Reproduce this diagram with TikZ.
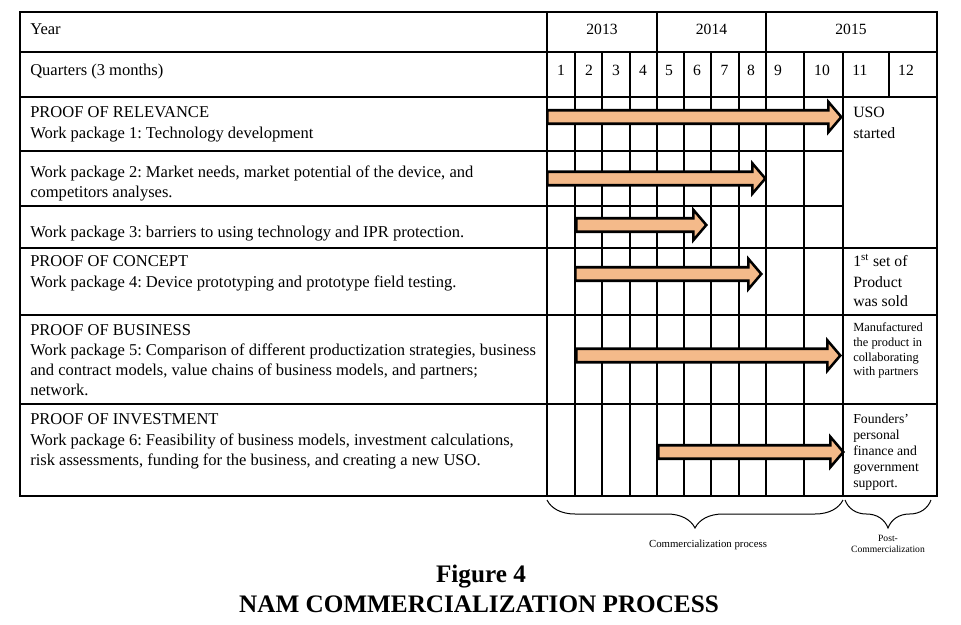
\documentclass[tikz,border=0pt]{standalone}
\usepackage{fontspec}
\setmainfont{Liberation Serif}
\usetikzlibrary{decorations.pathreplacing}
\definecolor{barfill}{HTML}{F4BA8A}
\tikzset{
  gridline/.style={line width=1.0pt, draw=black},
  cell/.style={anchor=base west, inner sep=0pt, font=\fontsize{12.4}{14}\selectfont},
  hdr/.style={anchor=base, inner sep=0pt, font=\fontsize{11.7}{14}\selectfont},
  smallnote/.style={anchor=base west, inner sep=0pt, font=\fontsize{9.3}{11}\selectfont},
  midnote/.style={anchor=base west, inner sep=0pt, font=\fontsize{10.3}{12}\selectfont},
  outnote/.style={anchor=base west, inner sep=0pt, font=\fontsize{11.8}{14}\selectfont},
  bar/.style={fill=barfill, draw=black, line width=1.9pt, line join=miter},
  bracedeco/.style={decorate, decoration={brace, mirror, amplitude=21pt}, line width=0.75pt},
  bracelabel/.style={anchor=base, inner sep=0pt, font=\fontsize{8.1}{10}\selectfont},
  tinylabel/.style={anchor=base, inner sep=0pt, font=\fontsize{7.2}{8}\selectfont},
  titletext/.style={anchor=base, inner sep=0pt, font=\fontsize{18.9}{22}\selectfont\bfseries},
}
% #1 start x, #2 tip x, #3 centre y
\newcommand\ganttbar[3]{%
  \draw[bar] (#1,#3-6.75) -- (#2-13,#3-6.75) -- (#2-13,#3-15.25) -- (#2,#3)
    -- (#2-13,#3+15.25) -- (#2-13,#3+6.75) -- (#1,#3+6.75) -- cycle;}
\begin{document}
\frenchspacing
\begin{tikzpicture}[x=0.75pt,y=-0.75pt]
\useasboundingbox (0,0) rectangle (961,625);
\fill[white] (0,0) rectangle (961,625);

% ---- grid ----
\draw[gridline] (20,12) rectangle (937,496);
\foreach \yy in {52,97,248,315,404} \draw[gridline] (20,\yy) -- (937,\yy);
\foreach \yy in {151,206} \draw[gridline] (20,\yy) -- (843,\yy);
\foreach \xx in {547,657,766} \draw[gridline] (\xx,12) -- (\xx,496);
\foreach \xx in {575,602,630,684,711,739,804,843} \draw[gridline] (\xx,52) -- (\xx,496);
\draw[gridline] (889,52) -- (889,97);

% ---- header ----
\node[cell] (year) at (30,34) {Year};
\node[hdr] (y2013) at (602,34) {2013};
\node[hdr] (y2014) at (711.5,34) {2014};
\node[hdr] (y2015) at (851,34) {2015};
\node[cell] (quarters) at (30,75.5) {Quarters (3 months)};
\foreach \q/\xx in {1/561,2/589,3/616,4/643,5/669,6/697,7/724.5,8/751,9/778,10/822,11/860,12/906}
  \node[hdr] (q\q) at (\xx,75.5) {\q};

% ---- rows ----
\node[cell] (r1a) at (30,117) {PROOF OF RELEVANCE};
\node[cell] (r1b) at (30,138) {Work package 1: Technology development};
\node[cell] (r2a) at (30,177.5) {Work package 2: Market needs, market potential of the device, and};
\node[cell] (r2b) at (30,197.5) {competitors analyses.};
\node[cell] (r3a) at (30,237.5) {Work package 3: barriers to using technology and IPR protection.};
\node[cell] (r4a) at (30,266.5) {PROOF OF CONCEPT};
\node[cell] (r4b) at (30,287) {Work package 4: Device prototyping and prototype field testing.};
\node[cell] (r5a) at (30,335.5) {PROOF OF BUSINESS};
\node[cell] (r5b) at (30,355.5) {Work package 5: Comparison of different productization strategies, business};
\node[cell] (r5c) at (30,375.5) {and contract models, value chains of business models, and partners;};
\node[cell] (r5d) at (30,395) {network.};
\node[cell] (r6a) at (30,424.5) {PROOF OF INVESTMENT};
\node[cell] (r6b) at (30,445) {Work package 6: Feasibility of business models, investment calculations,};
\node[cell] (r6c) at (30,465) {risk assessments, funding for the business, and creating a new USO.};

% ---- outcome column ----
\node[outnote] (o1a) at (853,117) {USO};
\node[outnote] (o1b) at (853,138) {started};
\node[outnote] (o4a) at (853,266.5) {1\textsuperscript{st} set of};
\node[outnote] (o4b) at (853,287) {Product};
\node[outnote] (o4c) at (853,306.5) {was sold};
\node[smallnote] (o5a) at (853,331.5) {Manufactured};
\node[smallnote] (o5b) at (853,346.2) {the product in};
\node[smallnote] (o5c) at (853,361) {collaborating};
\node[smallnote] (o5d) at (853,375.7) {with partners};
\node[midnote] (o6a) at (853,423.5) {Founders’};
\node[midnote] (o6b) at (853,439.5) {personal};
\node[midnote] (o6c) at (853,455.5) {finance and};
\node[midnote] (o6d) at (853,471) {government};
\node[midnote] (o6e) at (853,487) {support.};

% ---- bars ----
\ganttbar{547.3}{841.3}{117}
\ganttbar{547.3}{765.3}{178.5}
\ganttbar{576.3}{706.3}{225}
\ganttbar{575.3}{761.3}{274}
\ganttbar{576.3}{840.3}{355.5}
\ganttbar{658.3}{843.3}{452}

% ---- braces ----
\coordinate (b1l) at (547,500);
\coordinate (b1r) at (843,500);
\coordinate (b2l) at (845,500);
\coordinate (b2r) at (931,500);
\draw[bracedeco] (b1l) -- (b1r);
\draw[bracedeco] (b2l) -- (b2r);
\node[bracelabel] (commlabel) at (708,547) {Commercialization process};
\node[tinylabel] (postlabel1) at (888,541) {Post-};
\node[tinylabel] (postlabel2) at (888,552) {Commercialization};

% ---- title ----
\node[titletext] (fig) at (481,582) {Figure 4};
\node[titletext] (figtitle) at (479,612) {NAM COMMERCIALIZATION PROCESS};
\end{tikzpicture}
\end{document}
